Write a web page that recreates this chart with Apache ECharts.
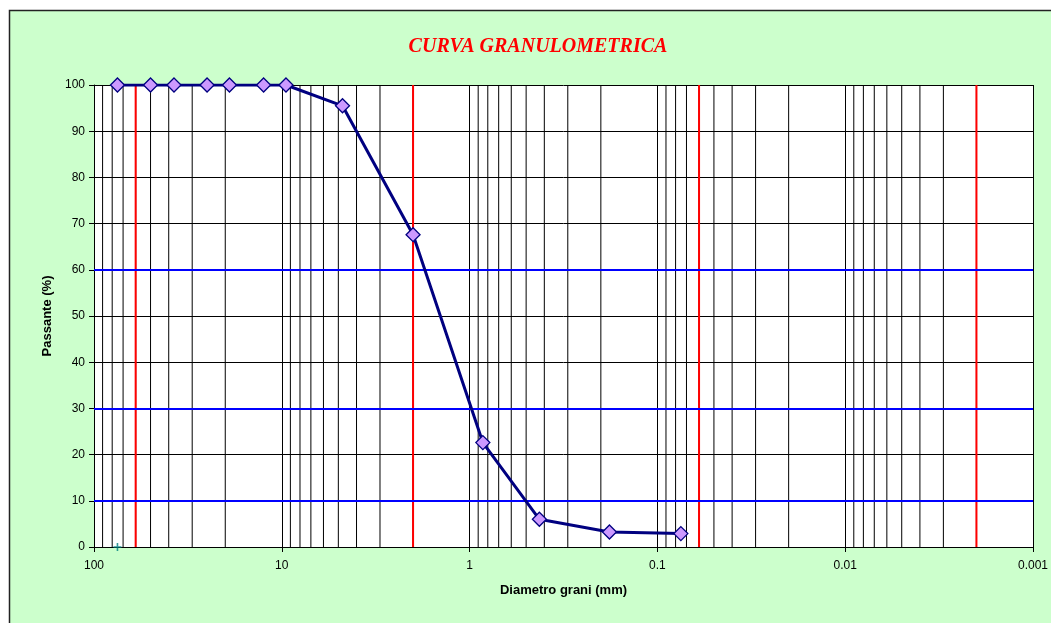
<!DOCTYPE html>
<html>
<head>
<meta charset="utf-8">
<script src="https://cdn.jsdelivr.net/npm/echarts@6/dist/echarts.min.js"></script>
<style>html,body{margin:0;padding:0;background:#fff;}#c{width:1051px;height:623px;}</style>
</head>
<body>
<div id="c"></div>
<script>
// Data
const diameters = [75, 50, 37.5, 25, 19, 12.5, 9.5, 4.75, 2, 0.85, 0.425, 0.18, 0.075];
const passing   = [100, 100, 100, 100, 100, 100, 100, 95.5, 67.6, 22.6, 6.0, 3.25, 2.9];
const extraPoint = [[75, 0]];
const xTickLabels = ['100', '10', '1', '0.1', '0.01', '0.001'];
const xTickValues = [100, 10, 1, 0.1, 0.01, 0.001];
const decades = [0.001, 0.01, 0.1, 1, 10];
const minorMultipliers = [2, 3, 4, 5, 6, 7, 8, 9];
const redLines = [60, 2, 0.06, 0.002];
const blueLines = [10, 30, 60];

const minorGrid = [];
decades.forEach(d => minorMultipliers.forEach(m => minorGrid.push(+(d * m).toPrecision(3))));

function verticalSegments(values) {
  const out = [];
  values.forEach(v => { out.push([v, 0]); out.push([v, 100]); out.push([v, '-']); });
  return out;
}

function labelFor(v) {
  let best = 0, bd = Infinity;
  xTickValues.forEach((t, i) => { const dd = Math.abs(Math.log10(v) - Math.log10(t)); if (dd < bd) { bd = dd; best = i; } });
  return bd < 1e-6 ? xTickLabels[best] : '';
}

const chart = echarts.init(document.getElementById('c'), null, {renderer: 'canvas'});
const option = {
  animation: false,
  backgroundColor: '#ffffff',
  textStyle: {fontFamily: 'Liberation Sans, Arial, sans-serif'},
  graphic: [{
    type: 'rect', z: -100, silent: true,
    shape: {x: 9.5, y: 10.5, width: 1100, height: 700},
    style: {fill: '#CCFFCC', stroke: '#222', lineWidth: 1.5}
  }],
  title: {
    text: 'CURVA GRANULOMETRICA',
    left: 533, top: 32, textAlign: 'center',
    textStyle: {color: '#ff0000', fontFamily: 'Liberation Serif, Times New Roman, serif', fontStyle: 'italic', fontWeight: 'bold', fontSize: 20}
  },
  grid: {left: 94, right: 16, top: 85, bottom: 76, show: true, backgroundColor: '#ffffff', borderWidth: 0},
  xAxis: {
    type: 'log', logBase: 10, min: 0.001, max: 100, inverse: true,
    name: 'Diametro grani (mm)', nameLocation: 'middle', nameGap: 37,
    nameTextStyle: {fontWeight: 'bold', fontSize: 13, color: '#000'},
    axisLine: {show: true, lineStyle: {color: '#000', width: 1}},
    axisTick: {show: true, length: 5, lineStyle: {color: '#000'}},
    axisLabel: {color: '#000', fontSize: 12, margin: 13, formatter: v => labelFor(v)},
    splitLine: {show: true, lineStyle: {color: '#000', width: 1}}
  },
  yAxis: {
    type: 'value', min: 0, max: 100, interval: 10,
    name: 'Passante (%)', nameLocation: 'middle', nameGap: 37, nameRotate: 90,
    nameTextStyle: {fontWeight: 'bold', fontSize: 13, color: '#000'},
    axisLine: {show: true, lineStyle: {color: '#000', width: 1}},
    axisTick: {show: true, length: 5, lineStyle: {color: '#000'}},
    axisLabel: {color: '#000', fontSize: 12, margin: 9},
    splitLine: {show: true, lineStyle: {color: '#000', width: 1}}
  },
  series: [
    {
      type: 'line', silent: true, z: 1, symbol: 'none', connectNulls: false,
      data: verticalSegments(minorGrid),
      lineStyle: {color: '#000', width: 1}
    },
    {
      type: 'line', silent: true, z: 2, symbol: 'none', connectNulls: false,
      data: verticalSegments(redLines),
      lineStyle: {color: '#ff0000', width: 2},
      markLine: {
        silent: true, symbol: 'none', animation: false,
        label: {show: false},
        lineStyle: {color: '#0000ff', width: 2, type: 'solid'},
        data: blueLines.map(v => ({yAxis: v}))
      }
    },
    {
      type: 'line', z: 5,
      data: diameters.map((d, i) => [d, passing[i]]),
      lineStyle: {color: '#000080', width: 3},
      symbol: 'diamond', symbolSize: 14,
      itemStyle: {color: '#CC99FF', borderColor: '#000080', borderWidth: 1.3}
    },
    {
      type: 'scatter', z: 6,
      data: extraPoint,
      symbol: 'path://M4,0H6V4H10V6H6V10H4V6H0V4H4Z', symbolSize: 8,
      itemStyle: {color: '#008080'}
    }
  ]
};
chart.setOption(option);
</script>
</body>
</html>
